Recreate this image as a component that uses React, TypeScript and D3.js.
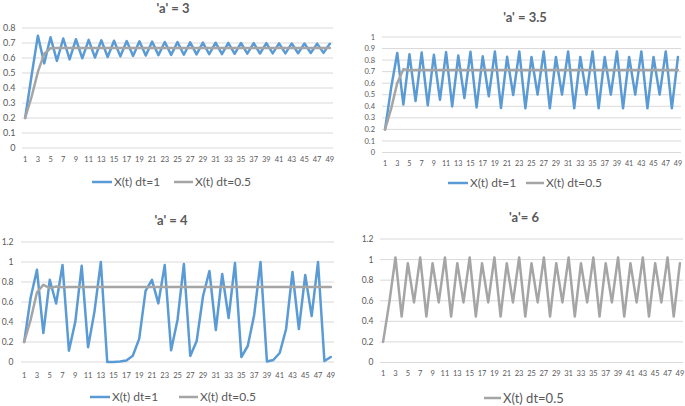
import React from 'react';
import * as d3 from 'd3';

const categories = [
  1, 2, 3, 4, 5, 6, 7, 8, 9, 10, 11, 12, 13, 14, 15, 16, 17, 18, 19, 20, 21, 22, 23, 24, 25,
  26, 27, 28, 29, 30, 31, 32, 33, 34, 35, 36, 37, 38, 39, 40, 41, 42, 43, 44, 45, 46, 47, 48, 49,
];

const a3Dt1 = [
  0.2, 0.48, 0.749, 0.564, 0.738, 0.581, 0.73, 0.591, 0.725, 0.598, 0.721, 0.603, 0.718, 0.607,
  0.715, 0.611, 0.713, 0.614, 0.711, 0.616, 0.709, 0.619, 0.707, 0.621, 0.706, 0.622, 0.704, 0.624,
  0.703, 0.625, 0.702, 0.626, 0.701, 0.628, 0.7, 0.629, 0.699, 0.63, 0.699, 0.631, 0.698, 0.631,
  0.697, 0.632, 0.697, 0.633, 0.696, 0.634, 0.695,
];
const a3Dt05 = [
  0.2, 0.34, 0.507, 0.628, 0.665, 0.667, 0.667, 0.667, 0.667, 0.667, 0.667, 0.667, 0.667, 0.667,
  0.667, 0.667, 0.667, 0.667, 0.667, 0.667, 0.667, 0.667, 0.667, 0.667, 0.667, 0.667, 0.667, 0.667,
  0.667, 0.667, 0.667, 0.667, 0.667, 0.667, 0.667, 0.667, 0.667, 0.667, 0.667, 0.667, 0.667, 0.667,
  0.667, 0.667, 0.667, 0.667, 0.667, 0.667, 0.667,
];

const a35Dt1 = [
  0.2, 0.56, 0.862, 0.415, 0.85, 0.446, 0.865, 0.409, 0.846, 0.456, 0.869, 0.399, 0.839, 0.472,
  0.872, 0.39, 0.833, 0.487, 0.874, 0.385, 0.828, 0.498, 0.875, 0.383, 0.827, 0.501, 0.875, 0.383,
  0.827, 0.501, 0.875, 0.383, 0.827, 0.501, 0.875, 0.383, 0.827, 0.501, 0.875, 0.383, 0.827, 0.501,
  0.875, 0.383, 0.827, 0.501, 0.875, 0.383, 0.827,
];
const a35Dt05 = [
  0.2, 0.38, 0.602, 0.72, 0.713, 0.715, 0.714, 0.714, 0.714, 0.714, 0.714, 0.714, 0.714, 0.714,
  0.714, 0.714, 0.714, 0.714, 0.714, 0.714, 0.714, 0.714, 0.714, 0.714, 0.714, 0.714, 0.714, 0.714,
  0.714, 0.714, 0.714, 0.714, 0.714, 0.714, 0.714, 0.714, 0.714, 0.714, 0.714, 0.714, 0.714, 0.714,
  0.714, 0.714, 0.714, 0.714, 0.714, 0.714, 0.714,
];

const a4Dt1 = [
  0.2, 0.64, 0.922, 0.289, 0.822, 0.585, 0.971, 0.113, 0.402, 0.962, 0.148, 0.504, 1.0, 0.0003,
  0.001, 0.004, 0.016, 0.062, 0.231, 0.711, 0.822, 0.586, 0.97, 0.117, 0.42, 0.98, 0.06, 0.21,
  0.66, 0.91, 0.32, 0.88, 0.44, 0.99, 0.05, 0.16, 0.47, 1.0, 0.005, 0.02, 0.09, 0.33, 0.9, 0.33,
  0.87, 0.46, 1.0, 0.01, 0.05,
];
const a4Dt05 = [
  0.2, 0.42, 0.697, 0.771, 0.739, 0.755, 0.747, 0.751, 0.749, 0.75, 0.75, 0.75, 0.75, 0.75, 0.75,
  0.75, 0.75, 0.75, 0.75, 0.75, 0.75, 0.75, 0.75, 0.75, 0.75, 0.75, 0.75, 0.75, 0.75, 0.75, 0.75,
  0.75, 0.75, 0.75, 0.75, 0.75, 0.75, 0.75, 0.75, 0.75, 0.75, 0.75, 0.75, 0.75, 0.75, 0.75, 0.75,
  0.75, 0.75,
];

const a6Dt05 = [
  0.2, 0.58, 1.021, 0.447, 0.965, 0.584, 1.021, 0.447, 0.965, 0.584, 1.021, 0.447, 0.965, 0.584,
  1.021, 0.447, 0.965, 0.584, 1.021, 0.447, 0.965, 0.584, 1.021, 0.447, 0.965, 0.584, 1.021, 0.447,
  0.965, 0.584, 1.021, 0.447, 0.965, 0.584, 1.021, 0.447, 0.965, 0.584, 1.021, 0.447, 0.965, 0.584,
  1.021, 0.447, 0.965, 0.584, 1.021, 0.447, 0.965,
];

const seriesNames = ['X(t) dt=1', 'X(t) dt=0.5'];
const titles = ["'a' = 3", "'a' = 3.5", "'a' = 4", "'a'= 6"];
const yTicksA = [0, 0.1, 0.2, 0.3, 0.4, 0.5, 0.6, 0.7, 0.8];
const yTicksB = [0, 0.1, 0.2, 0.3, 0.4, 0.5, 0.6, 0.7, 0.8, 0.9, 1];
const yTicksC = [0, 0.2, 0.4, 0.6, 0.8, 1, 1.2];

const BLUE = '#5B9BD5';
const GRAY = '#A5A5A5';
const TEXT = '#595959';
const GRID = '#D9D9D9';
const FONT = 'Lato, "Open Sans", sans-serif';

type LegendItem = { name: string; color: string; x1: number; x2: number };
type Cfg = {
  left: number;
  right: number;
  y0: number;
  yTopPx: number;
  yMax: number;
  ticks: number[];
  yLabelRight: number;
  yFont: number;
  xFont: number;
  xLabelBase: number;
  title: string;
  titleX: number;
  titleBase: number;
  series: { values: number[]; color: string }[];
  legendY: number;
  legendFont: number;
  legend: LegendItem[];
};

function Chart({ cfg }: { cfg: Cfg }) {
  const x = d3.scalePoint<number>().domain(categories).range([cfg.left, cfg.right]).padding(0.5);
  const y = d3.scaleLinear().domain([0, cfg.yMax]).range([cfg.y0, cfg.yTopPx]);
  const line = d3
    .line<number>()
    .x((_, i) => x(categories[i]) as number)
    .y((v) => y(v));
  const fmt = (v: number) => String(+v.toFixed(1));
  return (
    <g>
      {cfg.ticks.map((t) => (
        <g key={t}>
          <line x1={cfg.left} x2={cfg.right} y1={y(t)} y2={y(t)} stroke={GRID} strokeWidth={1} />
          <text
            x={cfg.yLabelRight}
            y={y(t)}
            dy="0.35em"
            textAnchor="end"
            fontSize={cfg.yFont}
            fill={TEXT}
            fontFamily={FONT}
          >
            {fmt(t)}
          </text>
        </g>
      ))}
      {categories
        .filter((c) => c % 2 === 1)
        .map((c) => (
          <text
            key={c}
            x={x(c) as number}
            y={cfg.xLabelBase}
            textAnchor="middle"
            fontSize={cfg.xFont}
            fill={TEXT}
            fontFamily={FONT}
          >
            {c}
          </text>
        ))}
      {cfg.series.map((s, i) => (
        <path
          key={i}
          d={line(s.values) as string}
          fill="none"
          stroke={s.color}
          strokeWidth={2.5}
          strokeLinejoin="round"
          strokeLinecap="round"
        />
      ))}
      <text
        x={cfg.titleX}
        y={cfg.titleBase}
        textAnchor="middle"
        fontSize={13}
        fontWeight="bold"
        fill={TEXT}
        fontFamily={FONT}
      >
        {cfg.title}
      </text>
      {cfg.legend.map((l, i) => (
        <g key={i}>
          <line x1={l.x1} x2={l.x2} y1={cfg.legendY} y2={cfg.legendY} stroke={l.color} strokeWidth={2.5} />
          <text
            x={l.x2 + 2}
            y={cfg.legendY}
            dy="0.35em"
            fontSize={cfg.legendFont}
            fill={TEXT}
            fontFamily={FONT}
          >
            {l.name}
          </text>
        </g>
      ))}
    </g>
  );
}

const charts: Cfg[] = [
  {
    left: 22, right: 333, y0: 148, yTopPx: 28, yMax: 0.8, ticks: yTicksA, yLabelRight: 15.5,
    yFont: 9, xFont: 7.5, xLabelBase: 161.5, title: titles[0], titleX: 173, titleBase: 12.5,
    series: [{ values: a3Dt1, color: BLUE }, { values: a3Dt05, color: GRAY }],
    legendY: 182, legendFont: 12,
    legend: [
      { name: seriesNames[0], color: BLUE, x1: 92, x2: 112 },
      { name: seriesNames[1], color: GRAY, x1: 174, x2: 193 },
    ],
  },
  {
    left: 382, right: 681, y0: 152.5, yTopPx: 37, yMax: 1, ticks: yTicksB, yLabelRight: 375,
    yFont: 7.5, xFont: 7.2, xLabelBase: 166, title: titles[1], titleX: 525, titleBase: 21.5,
    series: [{ values: a35Dt1, color: BLUE }, { values: a35Dt05, color: GRAY }],
    legendY: 183, legendFont: 12,
    legend: [
      { name: seriesNames[0], color: BLUE, x1: 448, x2: 468 },
      { name: seriesNames[1], color: GRAY, x1: 526, x2: 544 },
    ],
  },
  {
    left: 21, right: 334, y0: 362, yTopPx: 242, yMax: 1.2, ticks: yTicksC, yLabelRight: 13.5,
    yFont: 8.5, xFont: 7.5, xLabelBase: 377.5, title: titles[2], titleX: 171, titleBase: 225,
    series: [{ values: a4Dt1, color: BLUE }, { values: a4Dt05, color: GRAY }],
    legendY: 397, legendFont: 12,
    legend: [
      { name: seriesNames[0], color: BLUE, x1: 90, x2: 110 },
      { name: seriesNames[1], color: GRAY, x1: 179, x2: 198 },
    ],
  },
  {
    left: 380, right: 683, y0: 362.5, yTopPx: 239, yMax: 1.2, ticks: yTicksC, yLabelRight: 373.5,
    yFont: 8.5, xFont: 7.5, xLabelBase: 376, title: titles[3], titleX: 524, titleBase: 222,
    series: [{ values: a6Dt05, color: GRAY }],
    legendY: 398, legendFont: 13,
    legend: [{ name: seriesNames[1], color: GRAY, x1: 484, x2: 501 }],
  },
];

export default function App() {
  return (
    <svg
      width={685}
      height={406}
      viewBox="0 0 685 406"
      style={{ position: 'absolute', left: 0, top: 0, background: '#fff' }}
    >
      <rect width={685} height={406} fill="#fff" />
      {charts.map((c, i) => (
        <Chart key={i} cfg={c} />
      ))}
    </svg>
  );
}
